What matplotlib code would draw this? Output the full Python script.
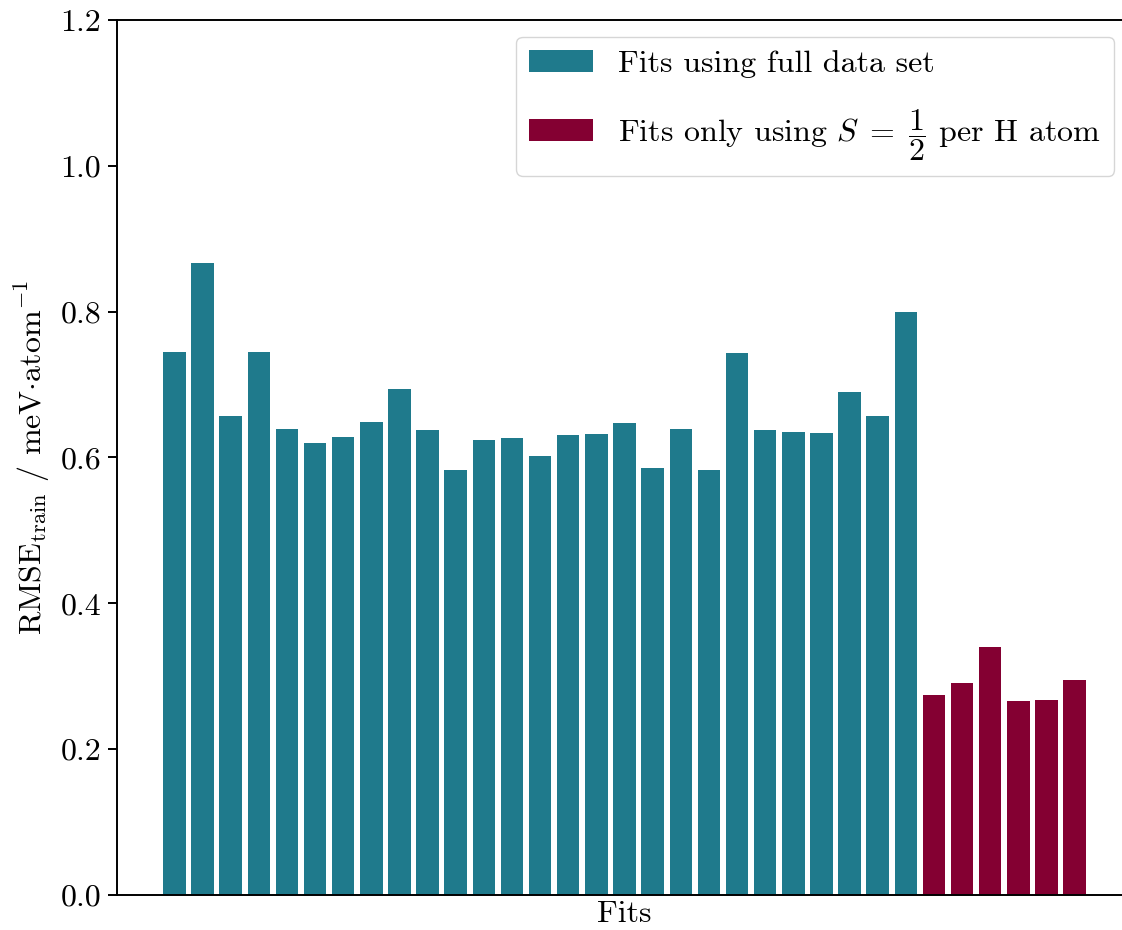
import numpy as np
import matplotlib
matplotlib.use("Agg")
import matplotlib.pyplot as plt

plt.rcParams["font.family"] = "serif"
plt.rcParams["font.serif"] = ["cmr10", "DejaVu Serif"]
plt.rcParams["mathtext.fontset"] = "cm"
plt.rcParams["axes.formatter.use_mathtext"] = True
plt.rcParams["font.size"] = 23

# RMSE of each fit (meV/atom)
rmse_full = [0.745, 0.867, 0.657, 0.745, 0.639, 0.620, 0.628, 0.649, 0.694,
             0.638, 0.583, 0.624, 0.627, 0.602, 0.631, 0.632, 0.647, 0.586,
             0.639, 0.583, 0.743, 0.638, 0.635, 0.634, 0.690, 0.657, 0.800]
rmse_half = [0.274, 0.291, 0.340, 0.266, 0.267, 0.295]

label_full = "Fits using full data set"
label_half = r"Fits only using $S\;=\;\dfrac{1}{2}$ per H atom"
color_full = "#1f7a8c"
color_half = "#840032"

fig = plt.figure(figsize=(11.22, 9.3), dpi=100)
ax = fig.add_axes([117 / 1122, 35 / 930, 1015 / 1122, 875 / 930])

x_full = np.arange(len(rmse_full))
x_half = np.arange(len(rmse_full), len(rmse_full) + len(rmse_half))
ax.bar(x_full, rmse_full, width=0.8, color=color_full, label=label_full)
ax.bar(x_half, rmse_half, width=0.8, color=color_half, label=label_half)

ax.set_ylim(0, 1.2)
ax.set_yticks([0.0, 0.2, 0.4, 0.6, 0.8, 1.0, 1.2])
ax.set_yticklabels(["0.0", "0.2", "0.4", "0.6", "0.8", "1.0", "1.2"])
ax.set_xticks([])
ax.set_xlabel("Fits", labelpad=4)
ax.set_ylabel(r"$\mathrm{RMSE}_\mathrm{train}$ / meV$\cdot$atom$^{-1}$", labelpad=6)

for s in ax.spines.values():
    s.set_linewidth(1.4)
ax.tick_params(axis="y", length=6.5, width=1.4, pad=5)

leg = ax.legend(loc="upper right", bbox_to_anchor=(1114 / 1122, 893 / 930),
                bbox_transform=fig.transFigure, borderaxespad=0,
                labelspacing=0.9, borderpad=0.4,
                fancybox=True, framealpha=0.8)

fig.savefig("out.png", dpi=100)
